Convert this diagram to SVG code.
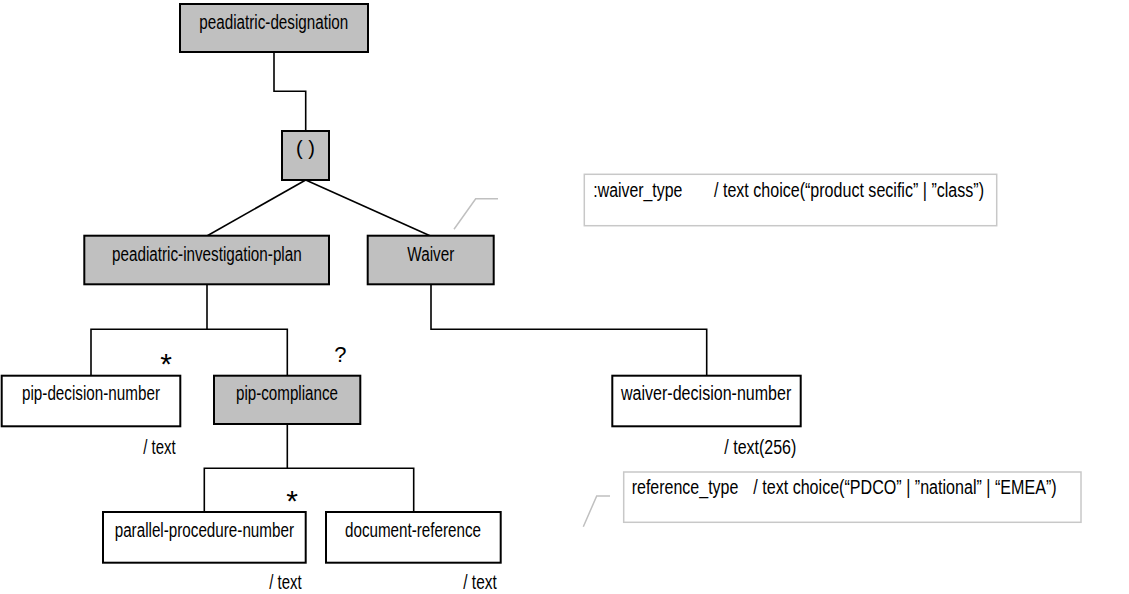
<svg xmlns="http://www.w3.org/2000/svg" width="1129" height="594" viewBox="0 0 1129 594">
<style>
.box{stroke:#000;stroke-width:2}
.g{fill:#c0c0c0}
.w{fill:#fff}
.note{fill:#fff;stroke:#c8c8c8;stroke-width:1.5}
.t{font-family:"Liberation Sans Narrow","Liberation Sans",Arial,sans-serif;font-size:20px;fill:#000}
.c{fill:none;stroke:#000;stroke-width:1.6}
.cl{fill:none;stroke:#c0c0c0;stroke-width:1.5}
.sym{font-family:"Liberation Sans",Arial,sans-serif;fill:#000}
</style>
<rect width="1129" height="594" fill="#fff"/>
<g id="connectors">
<polyline class="c" points="274,52 274,91.3 305.7,91.3 305.7,131"/>
<line class="c" x1="305.7" y1="180" x2="207.3" y2="235.7"/>
<line class="c" x1="305.7" y1="180" x2="430" y2="235.7"/>
<polyline class="c" points="207,284.3 207,329.3"/>
<polyline class="c" points="91,375.7 91,329.3 287.3,329.3 287.3,375.7"/>
<polyline class="c" points="431,284.3 431,329.3 706.7,329.3 706.7,375.7"/>
<polyline class="c" points="287.3,424 287.3,468.3"/>
<polyline class="c" points="204.3,512 204.3,468.3 413.7,468.3 413.7,512"/>
<polyline class="cl" points="454,229.3 475.7,198.7 498,198.7"/>
<polyline class="cl" points="583.3,526.7 596.7,496 610,496"/>
</g>
<g id="peadiatric-designation">
<rect class="box g" x="180" y="4" width="188" height="48"/>
<text class="t" x="199.3" y="28.5" textLength="149" lengthAdjust="spacingAndGlyphs">peadiatric-designation</text>
</g>
<g id="sequence">
<rect class="box g" x="282" y="131" width="47" height="49"/>
<text class="t" x="305.5" y="155" text-anchor="middle">( )</text>
</g>
<g id="peadiatric-investigation-plan">
<rect class="box g" x="84.3" y="235.7" width="244.7" height="48.6"/>
<text class="t" x="112" y="260.5" textLength="189.7" lengthAdjust="spacingAndGlyphs">peadiatric-investigation-plan</text>
</g>
<g id="waiver">
<rect class="box g" x="367.7" y="235.7" width="126" height="48.6"/>
<text class="t" x="407.3" y="260.5" textLength="47" lengthAdjust="spacingAndGlyphs">Waiver</text>
</g>
<g id="waiver-note">
<rect class="note" x="584.3" y="174.3" width="412.4" height="51.4"/>
<text class="t" x="593.3" y="197" textLength="89" lengthAdjust="spacingAndGlyphs">:waiver_type</text>
<text class="t" x="714" y="197" textLength="270" lengthAdjust="spacingAndGlyphs">/ text choice(“product secific” | ”class”)</text>
</g>
<g id="pip-decision-number">
<rect class="box w" x="1.7" y="375.7" width="178.6" height="50.6"/>
<text class="t" x="22" y="399.5" textLength="138" lengthAdjust="spacingAndGlyphs">pip-decision-number</text>
<text class="sym" x="166" y="374" font-size="30" text-anchor="middle">*</text>
<text class="t" x="143.3" y="453.5" textLength="32.4" lengthAdjust="spacingAndGlyphs">/ text</text>
</g>
<g id="pip-compliance">
<rect class="box g" x="214" y="375.7" width="146.3" height="48.3"/>
<text class="t" x="236" y="399.5" textLength="102" lengthAdjust="spacingAndGlyphs">pip-compliance</text>
<text class="sym" x="340.3" y="362.3" font-size="22" text-anchor="middle">?</text>
</g>
<g id="waiver-decision-number">
<rect class="box w" x="612.3" y="375.7" width="188.4" height="50.6"/>
<text class="t" x="621" y="399.5" textLength="170.3" lengthAdjust="spacingAndGlyphs">waiver-decision-number</text>
<text class="t" x="724.3" y="453.5" textLength="72" lengthAdjust="spacingAndGlyphs">/ text(256)</text>
</g>
<g id="parallel-procedure-number">
<rect class="box w" x="103" y="512" width="202.7" height="50.7"/>
<text class="t" x="114.7" y="537" textLength="179.3" lengthAdjust="spacingAndGlyphs">parallel-procedure-number</text>
<text class="sym" x="292" y="511" font-size="30" text-anchor="middle">*</text>
<text class="t" x="269.3" y="589" textLength="32.4" lengthAdjust="spacingAndGlyphs">/ text</text>
</g>
<g id="document-reference">
<rect class="box w" x="326" y="512" width="174.7" height="50.7"/>
<text class="t" x="345" y="537" textLength="136" lengthAdjust="spacingAndGlyphs">document-reference</text>
<text class="t" x="463.3" y="589" textLength="33.4" lengthAdjust="spacingAndGlyphs">/ text</text>
</g>
<g id="reference-note">
<rect class="note" x="623.7" y="472" width="457.3" height="50.3"/>
<text class="t" x="631.7" y="493.5" textLength="106.7" lengthAdjust="spacingAndGlyphs">reference_type</text>
<text class="t" x="753.3" y="493.5" textLength="303.3" lengthAdjust="spacingAndGlyphs">/ text choice(“PDCO” | ”national” | “EMEA”)</text>
</g>
</svg>
